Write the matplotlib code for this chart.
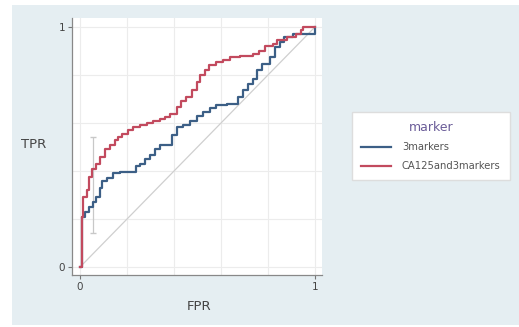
import matplotlib
matplotlib.use("Agg")
import matplotlib.pyplot as plt
from matplotlib.patches import Rectangle

# ROC data
fpr_3markers = [0, 0.007, 0.021, 0.04, 0.057, 0.07, 0.085, 0.092, 0.113, 0.142, 0.17, 0.227, 0.24,
                0.255, 0.277, 0.298, 0.32, 0.34, 0.369, 0.39, 0.411, 0.44, 0.468, 0.496, 0.525,
                0.553, 0.58, 0.624, 0.66, 0.674, 0.695, 0.716, 0.738, 0.752, 0.773, 0.794, 0.809,
                0.83, 0.85, 0.87, 0.908, 0.957, 1.0]
tpr_3markers = [0, 0.21, 0.23, 0.25, 0.27, 0.29, 0.33, 0.36, 0.37, 0.39, 0.396, 0.396, 0.42,
                0.43, 0.45, 0.465, 0.49, 0.51, 0.51, 0.55, 0.583, 0.59, 0.61, 0.63, 0.646,
                0.664, 0.674, 0.68, 0.68, 0.708, 0.736, 0.764, 0.785, 0.82, 0.847, 0.847, 0.875,
                0.917, 0.938, 0.958, 0.972, 0.972, 1.0]

fpr_ca125 = [0, 0.007, 0.014, 0.028, 0.04, 0.05, 0.07, 0.085, 0.106, 0.128, 0.149, 0.16, 0.18,
             0.206, 0.227, 0.255, 0.284, 0.312, 0.34, 0.36, 0.383, 0.411, 0.43, 0.45, 0.475,
             0.496, 0.51, 0.53, 0.55, 0.58, 0.61, 0.638, 0.68, 0.738, 0.76, 0.787, 0.82, 0.84,
             0.88, 0.92, 0.94, 0.95, 1.0]
tpr_ca125 = [0, 0.21, 0.29, 0.32, 0.375, 0.41, 0.43, 0.46, 0.49, 0.51, 0.53, 0.54, 0.555,
             0.57, 0.583, 0.59, 0.60, 0.61, 0.618, 0.625, 0.639, 0.667, 0.69, 0.708, 0.736,
             0.77, 0.80, 0.82, 0.84, 0.854, 0.864, 0.875, 0.88, 0.889, 0.90, 0.92, 0.93, 0.944,
             0.958, 0.97, 0.986, 1.0, 1.0]

ci_x = 0.055
ci_low, ci_high = 0.14, 0.54

series_names = ["3markers", "CA125and3markers"]
series_colors = ["#3c5f86", "#c24a5e"]

W, H = 519, 327
fig = plt.figure(figsize=(W / 100, H / 100), dpi=100, facecolor="white")
fig.patches.append(Rectangle((12 / W, 1 - 325 / H), 1 - 12 / W, (325 - 5) / H,
                             transform=fig.transFigure, facecolor="#e5eef2",
                             edgecolor="none", zorder=-10))

ax = fig.add_axes([72 / W, 1 - 275 / H, (322 - 72) / W, (275 - 18) / H])
ax.set_facecolor("white")
ax.set_xlim(-0.034, 1.03)
ax.set_ylim(-0.033, 1.0375)

grid_vals = [0, 0.2, 0.4, 0.6, 0.8, 1.0]
for g in grid_vals:
    ax.axvline(g, color="#ececec", lw=0.8, zorder=0)
    ax.axhline(g, color="#ececec", lw=0.8, zorder=0)

ax.plot([0, 1], [0, 1], color="#cfcfcf", lw=0.9, zorder=1)
ax.errorbar([ci_x], [(ci_low + ci_high) / 2], yerr=[[(ci_high - ci_low) / 2], [(ci_high - ci_low) / 2]],
            fmt="none", ecolor="#c8c8c8", elinewidth=0.9, capsize=2, zorder=1)

ax.plot(fpr_3markers, tpr_3markers, drawstyle="steps-post", color=series_colors[0], lw=1.6,
        label=series_names[0], zorder=3)
ax.plot(fpr_ca125, tpr_ca125, drawstyle="steps-post", color=series_colors[1], lw=1.6,
        label=series_names[1], zorder=4)

for s in ["top", "right"]:
    ax.spines[s].set_visible(False)
for s in ["left", "bottom"]:
    ax.spines[s].set_color("#888888")
    ax.spines[s].set_linewidth(0.9)

ax.set_xticks([0, 1])
ax.set_yticks([0, 1])
ax.set_xticklabels(["0", "1"])
ax.set_yticklabels(["0", "1"])
ax.tick_params(axis="both", length=3, width=0.8, color="#777777", labelsize=7.5,
               labelcolor="#444444", pad=2)

fig.text(34 / W, 1 - 145 / H, "TPR", ha="center", va="center", fontsize=9.5, color="#444444")
fig.text(199 / W, 1 - 306 / H, "FPR", ha="center", va="center", fontsize=9.5, color="#444444")

leg = fig.legend(handles=ax.get_lines()[-2:], labels=series_names, title="marker",
                 loc="upper left", bbox_to_anchor=(352 / W, 1 - 112 / H),
                 fontsize=7.2, title_fontsize=9, frameon=True, fancybox=False,
                 edgecolor="#dddddd", facecolor="white", framealpha=1,
                 handlelength=3.0, handletextpad=1.1, borderpad=0.9, labelspacing=0.85,
                 borderaxespad=0)
leg.get_title().set_color("#6a5c98")
for t in leg.get_texts():
    t.set_color("#555555")
leg._legend_box.align = "center"

fig.savefig("out.png", dpi=100, facecolor=fig.get_facecolor())
